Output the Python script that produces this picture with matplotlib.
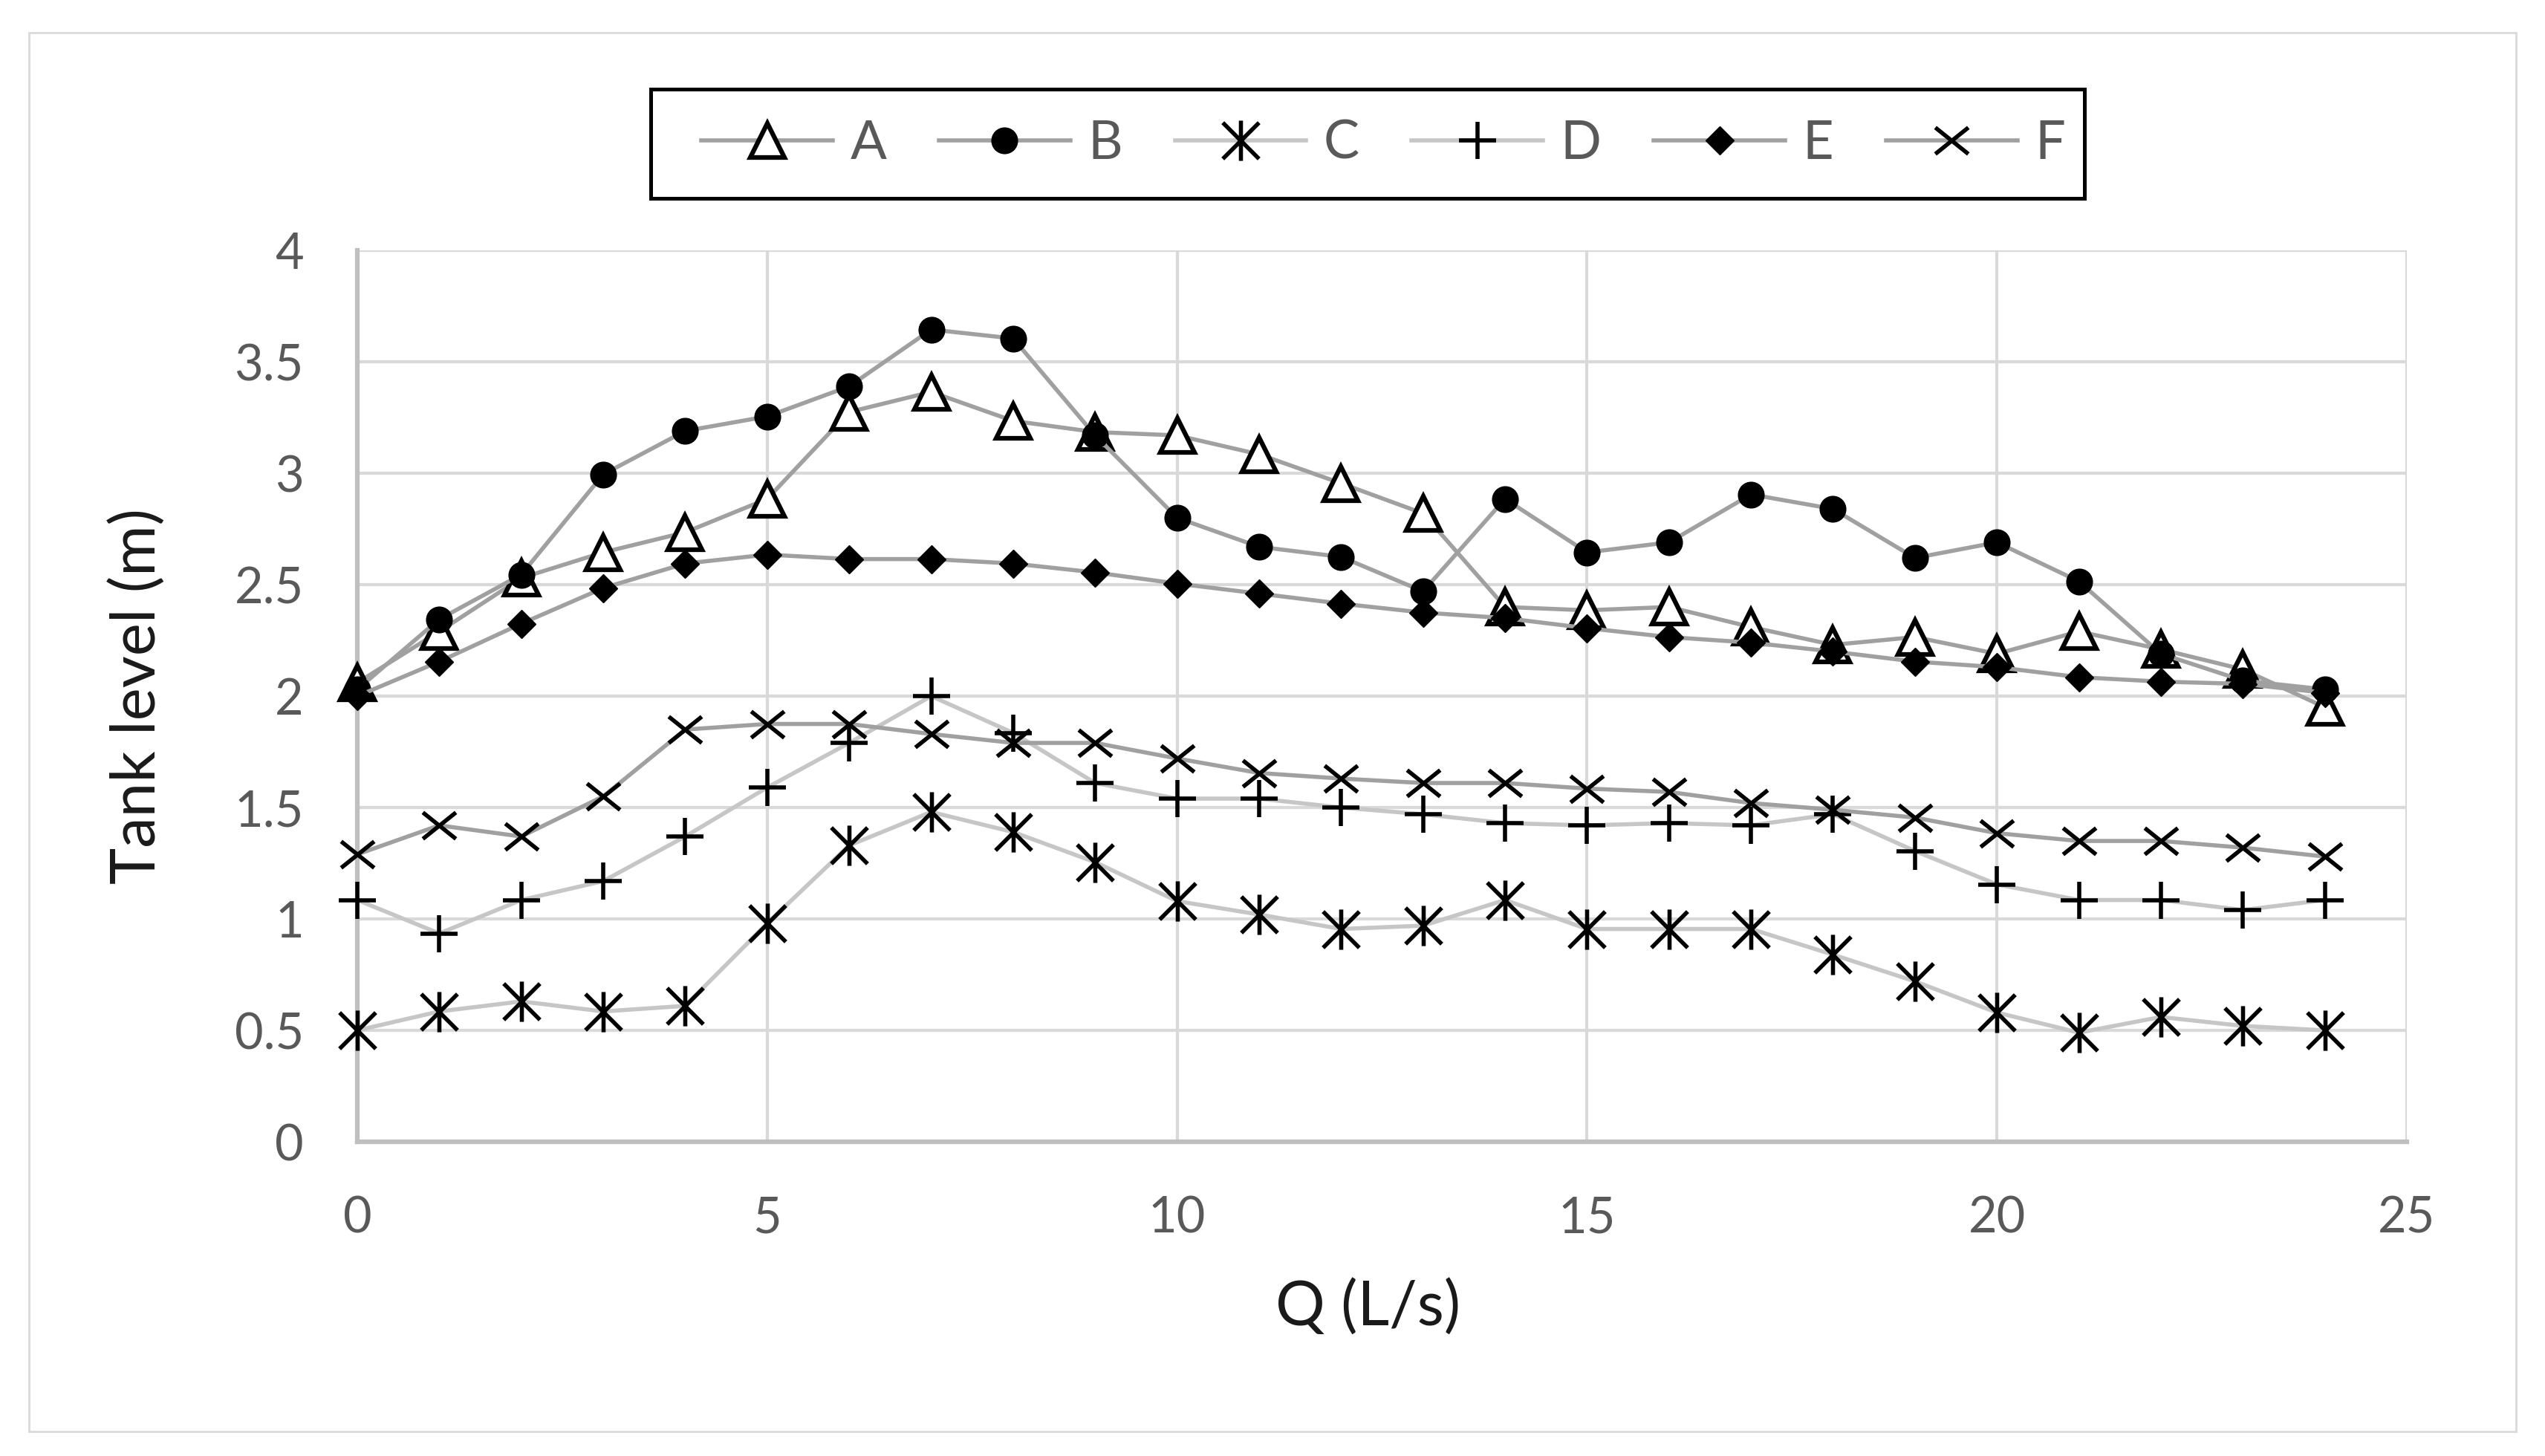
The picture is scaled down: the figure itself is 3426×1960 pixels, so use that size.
import matplotlib
matplotlib.use('Agg')
import matplotlib.pyplot as plt
from matplotlib.path import Path
from matplotlib.patches import Rectangle

plt.rcParams['font.family'] = ['Lato', 'DejaVu Sans']

# flow values on the x axis
q = list(range(25))

# tank levels
A = [2.06, 2.29, 2.53, 2.645, 2.735, 2.885, 3.275, 3.365, 3.235, 3.185, 3.17, 3.085, 2.955, 2.82,
     2.40, 2.385, 2.40, 2.31, 2.23, 2.265, 2.19, 2.29, 2.21, 2.12, 1.95]
B = [2.03, 2.345, 2.545, 2.995, 3.19, 3.255, 3.39, 3.645, 3.605, 3.17, 2.80, 2.67, 2.625, 2.47,
     2.885, 2.645, 2.69, 2.905, 2.84, 2.62, 2.69, 2.515, 2.19, 2.07, 2.03]
C = [0.50, 0.585, 0.63, 0.585, 0.61, 0.98, 1.33, 1.48, 1.39, 1.255, 1.08, 1.02, 0.955, 0.97,
     1.085, 0.955, 0.955, 0.955, 0.84, 0.72, 0.58, 0.49, 0.56, 0.52, 0.50]
D = [1.085, 0.935, 1.085, 1.17, 1.37, 1.59, 1.79, 2.0, 1.835, 1.61, 1.54, 1.54, 1.50, 1.47,
     1.43, 1.42, 1.43, 1.42, 1.47, 1.305, 1.155, 1.085, 1.085, 1.04, 1.085]
E = [2.0, 2.155, 2.325, 2.485, 2.595, 2.635, 2.615, 2.615, 2.595, 2.555, 2.505, 2.46, 2.415, 2.375,
     2.35, 2.305, 2.265, 2.24, 2.2, 2.155, 2.13, 2.085, 2.065, 2.055, 2.015]
F = [1.29, 1.42, 1.37, 1.55, 1.85, 1.875, 1.875, 1.83, 1.79, 1.79, 1.72, 1.655, 1.63, 1.61,
     1.61, 1.585, 1.57, 1.52, 1.49, 1.455, 1.385, 1.35, 1.35, 1.32, 1.28]

xticks = [0, 5, 10, 15, 20, 25]
yticks = [0, 0.5, 1, 1.5, 2, 2.5, 3, 3.5, 4]
ytick_labels = ['0', '0.5', '1', '1.5', '2', '2.5', '3', '3.5', '4']

# excel-like asterisk and wide cross markers
M, L = Path.MOVETO, Path.LINETO
star = Path([(0, -1), (0, 1), (-0.9, -0.9), (0.9, 0.9), (-0.9, 0.9), (0.9, -0.9)],
            [M, L, M, L, M, L])
cross = Path([(-1, -0.8), (1, 0.8), (-1, 0.8), (1, -0.8)], [M, L, M, L])

dark = '#a0a0a0'
light = '#c6c6c6'
lw = 4

fig = plt.figure(figsize=(34.26, 19.6), dpi=100)
ax = fig.add_axes([0.1404, 0.2158, 0.8053, 0.6122])

ax.plot(q, A, color=dark, lw=lw, marker='^', ms=33, mfc='white', mec='black', mew=4.5,
        clip_on=False, zorder=3, label='A')
ax.plot(q, B, color=dark, lw=lw, marker='o', ms=25, mfc='black', mec='black',
        clip_on=False, zorder=3, label='B')
ax.plot(q, C, color=light, lw=lw, marker=star, ms=39, mfc='none', mec='black', mew=4,
        clip_on=False, zorder=3, label='C')
ax.plot(q, D, color=light, lw=lw, marker='+', ms=36, mec='black', mew=4,
        clip_on=False, zorder=3, label='D')
ax.plot(q, E, color=dark, lw=lw, marker='D', ms=19, mfc='black', mec='black',
        clip_on=False, zorder=3, label='E')
ax.plot(q, F, color=dark, lw=lw, marker=cross, ms=32, mfc='none', mec='black', mew=4,
        clip_on=False, zorder=3, label='F')

ax.set_xlim(0, 25)
ax.set_ylim(0, 4)
ax.set_xticks(xticks)
ax.set_yticks(yticks)
ax.set_yticklabels(ytick_labels)
ax.tick_params(length=0, labelsize=48, labelcolor='#595959')
ax.tick_params(axis='y', pad=52)
ax.tick_params(axis='x', pad=52)
ax.grid(True, color='#d9d9d9', lw=3)
ax.set_axisbelow(True)
for s in ['top', 'right']:
    ax.spines[s].set_visible(False)
for s in ['left', 'bottom']:
    ax.spines[s].set_color('#bfbfbf')
    ax.spines[s].set_linewidth(4.5)

ax.set_xlabel('Q (L/s)', fontsize=60, color='#1a1a1a', va='center')
ax.xaxis.set_label_coords(0.493, -0.187)
ax.set_ylabel('Tank level (m)', fontsize=60, color='#1a1a1a', va='center')
ax.yaxis.set_label_coords(-0.107, 0.5)

leg = ax.legend(loc='center', bbox_to_anchor=(0.5435, 0.9013), bbox_transform=fig.transFigure,
                ncol=6, fontsize=52, frameon=False, handlelength=2.45, handletextpad=0.32,
                columnspacing=0.98, borderpad=0)
for t in leg.get_texts():
    t.set_color('#595959')

# legend frame: excel puts more room on the left than on the right
fig.patches.append(Rectangle((0.2557, 0.8638), 0.5633, 0.075, transform=fig.transFigure,
                             fill=False, edgecolor='black', lw=3.6))
# light outer border of the chart area
fig.patches.append(Rectangle((0.0114, 0.0168), 0.9772, 0.9607, transform=fig.transFigure,
                             fill=False, edgecolor='#d9d9d9', lw=2))

fig.savefig('out.png', dpi=100)
